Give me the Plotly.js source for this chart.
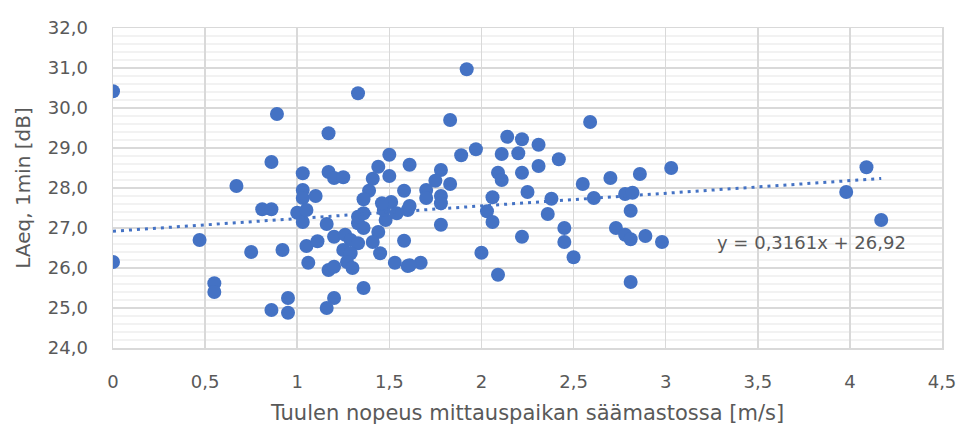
<!DOCTYPE html>
<html>
<head>
<meta charset="utf-8">
<script src="https://cdn.plot.ly/plotly-3.0.1.min.js"></script>
<style>html,body{margin:0;padding:0;background:#fff;}#chart{width:958px;height:430px;}</style>
</head>
<body>
<div id="chart"></div>
<script>
// Wind speed [m/s]
var windSpeed = [
  0.00, 0.00, 0.47, 0.55, 0.55, 0.67, 0.75, 0.81, 0.86, 0.86,
  0.89, 0.86, 0.92, 0.95, 0.95, 1.00, 1.03, 1.03, 1.03, 1.03,
  1.05, 1.06, 1.10, 1.11, 1.05, 1.17, 1.17, 1.20, 1.25, 1.16,
  1.20, 1.26, 1.29, 1.33, 1.25, 1.29, 1.27, 1.30, 1.17, 1.20,
  1.36, 1.20, 1.16, 1.33, 1.33, 1.36, 1.44, 1.41, 1.45, 1.53,
  1.60, 1.58, 1.48, 1.50, 1.44, 1.50, 1.41, 1.61, 1.39, 1.36,
  1.58, 1.33, 1.36, 1.47, 1.51, 1.54, 1.60, 1.67, 1.61, 1.83,
  1.89, 1.97, 2.14, 2.22, 2.31, 2.11, 2.20, 2.31, 2.09, 2.11,
  2.22, 2.25, 1.78, 1.75, 1.83, 1.70, 1.70, 1.78, 1.78, 1.61,
  2.06, 2.38, 1.92, 1.78, 2.00, 2.09, 2.22, 2.03, 2.06, 2.36,
  2.59, 2.42, 2.70, 2.86, 3.03, 2.55, 2.61, 2.78, 2.82, 2.81,
  2.45, 2.45, 2.50, 2.73, 2.78, 2.81, 2.89, 2.98, 2.81, 3.98,
  4.09, 4.17, 1.46
];
// LAeq, 1min [dB]
var laeq = [
  30.42, 26.15, 26.70, 25.62, 25.40, 28.05, 26.40, 27.47, 27.47, 28.65,
  29.85, 24.95, 26.45, 25.25, 24.88, 27.38, 28.37, 27.95, 27.75, 27.15,
  26.55, 26.13, 27.80, 26.67, 27.45, 29.37, 28.40, 28.25, 28.27, 27.10,
  26.78, 26.83, 26.70, 26.62, 26.45, 26.37, 26.15, 26.00, 25.95, 26.03,
  25.50, 25.25, 25.00, 30.37, 27.12, 27.00, 26.90, 26.65, 26.37, 26.13,
  26.05, 26.68, 27.20, 28.83, 28.53, 28.30, 28.23, 28.58, 27.93, 27.72,
  27.93, 27.28, 27.37, 27.45, 27.65, 27.37, 27.45, 26.13, 26.07, 29.70,
  28.82, 28.97, 29.28, 29.22, 29.08, 28.85, 28.87, 28.55, 28.38, 28.20,
  28.38, 27.90, 28.45, 28.18, 28.10, 27.95, 27.75, 27.80, 27.62, 27.55,
  27.77, 27.73, 30.97, 27.08, 26.38, 25.83, 26.78, 27.42, 27.15, 27.35,
  29.65, 28.72, 28.25, 28.35, 28.50, 28.10, 27.75, 27.85, 27.88, 27.43,
  27.00, 26.65, 26.27, 27.00, 26.83, 26.72, 26.80, 26.65, 25.65, 27.90,
  28.52, 27.20, 27.62
];
// Linear trendline given in the chart
var trendSlope = 0.3161;
var trendIntercept = 26.92;
var trendLabel = "y = 0,3161x + 26,92";
var xTitle = "Tuulen nopeus mittauspaikan säämastossa [m/s]";
var yTitle = "LAeq, 1min [dB]";

var xMin = Math.min.apply(null, windSpeed);
var xMax = Math.max.apply(null, windSpeed);
var trendX = [xMin, xMax];
var trendY = trendX.map(function (x) { return trendSlope * x + trendIntercept; });

var blue = "#4472C4";
var txt = "#595959";
var font = "DejaVu Sans, sans-serif";

var data = [
  {
    type: "scatter", mode: "markers",
    x: windSpeed, y: laeq,
    marker: { color: blue, size: 14, line: { width: 0 } },
    hoverinfo: "x+y", showlegend: false
  },
  {
    type: "scatter", mode: "lines",
    x: trendX, y: trendY,
    line: { color: blue, width: 3, dash: "3px,5px" },
    hoverinfo: "skip", showlegend: false
  }
];

var layout = {
  width: 958, height: 430,
  margin: { l: 113, r: 16, t: 28, b: 82, pad: 0 },
  paper_bgcolor: "#ffffff", plot_bgcolor: "#ffffff",
  separators: ", ",
  font: { family: font, color: txt, size: 18 },
  xaxis: {
    range: [0, 4.5], dtick: 0.5, tick0: 0,
    showgrid: true, gridcolor: "#d9d9d9", gridwidth: 1.5,
    zeroline: false,
    showline: true, mirror: true, linecolor: "#d9d9d9", linewidth: 1.5,
    ticks: "outside", ticklen: 17, tickcolor: "rgba(0,0,0,0)",
    tickfont: { family: font, size: 18, color: txt },
    title: { text: xTitle, font: { family: font, size: 21, color: txt }, standoff: 14 }
  },
  yaxis: {
    range: [24, 32], dtick: 1, tick0: 24, tickformat: ".1f",
    showgrid: true, gridcolor: "#d9d9d9", gridwidth: 1.5,
    minor: { dtick: 0.2, showgrid: true, gridcolor: "#f2f2f2", gridwidth: 1.5, ticks: "" },
    zeroline: false,
    showline: true, mirror: true, linecolor: "#d9d9d9", linewidth: 1.5,
    ticks: "outside", ticklen: 20, tickcolor: "rgba(0,0,0,0)",
    tickfont: { family: font, size: 18, color: txt },
    title: { text: yTitle, font: { family: font, size: 20, color: txt }, standoff: 12 }
  },
  annotations: [
    {
      x: 3.79, y: 26.63, xref: "x", yref: "y",
      text: trendLabel, showarrow: false,
      font: { family: font, size: 18, color: txt },
      xanchor: "center", yanchor: "middle"
    }
  ]
};

Plotly.newPlot("chart", data, layout, { staticPlot: true, displayModeBar: false });
</script>
</body>
</html>
